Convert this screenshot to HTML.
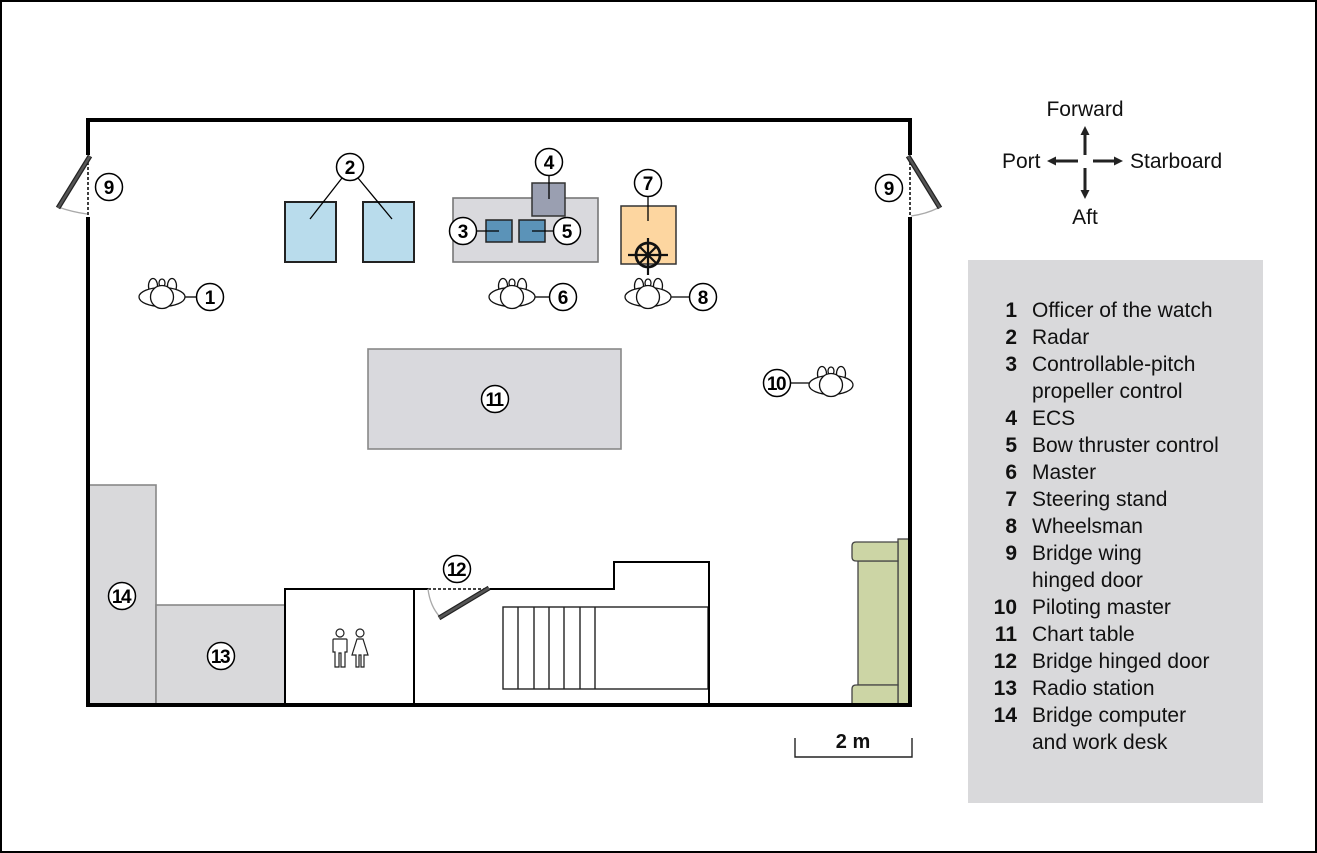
<!DOCTYPE html>
<html><head><meta charset="utf-8"><style>
html,body{margin:0;padding:0;background:#fff;}
svg{display:block;font-family:"Liberation Sans",sans-serif;}
</style></head><body>
<svg width="1317" height="853" viewBox="0 0 1317 853" xmlns="http://www.w3.org/2000/svg">
<rect x="1" y="1" width="1315" height="851" fill="#fff" stroke="#000" stroke-width="2"/>

<!-- furniture fills -->
<rect x="88" y="485" width="68" height="220" fill="#d9d9db" stroke="#888" stroke-width="1.6"/>
<rect x="156" y="605" width="129" height="100" fill="#d9d9db" stroke="#888" stroke-width="1.6"/>
<rect x="368" y="349" width="253" height="100" fill="#d9d9dd" stroke="#888" stroke-width="1.6"/>
<rect x="453" y="198" width="145" height="64" fill="#d9d9dd" stroke="#777" stroke-width="1.6"/>
<rect x="532" y="183" width="33" height="33" fill="#9a9fb1" stroke="#333" stroke-width="1.5"/>
<rect x="486" y="220" width="26" height="22" fill="#5b93b8" stroke="#222" stroke-width="1.5"/>
<rect x="519" y="220" width="26" height="22" fill="#5b93b8" stroke="#222" stroke-width="1.5"/>
<rect x="285" y="202" width="51" height="60" fill="#b9dcec" stroke="#222" stroke-width="2"/>
<rect x="363" y="202" width="51" height="60" fill="#b9dcec" stroke="#222" stroke-width="2"/>
<rect x="621" y="206" width="55" height="58" fill="#fdd6a0" stroke="#333" stroke-width="1.5"/>

<!-- wheel -->
<g stroke="#111" stroke-width="2.2" fill="none">
<circle cx="648" cy="255" r="12" stroke-width="2.8"/>
<line x1="628" y1="255" x2="668" y2="255"/>
<line x1="648" y1="238" x2="648" y2="275"/>
<line x1="640" y1="247" x2="656" y2="263"/>
<line x1="656" y1="247" x2="640" y2="263"/>
</g>
<circle cx="648" cy="255" r="2.5" fill="#111"/>

<!-- sofa -->
<g fill="#ccd5a5" stroke="#444" stroke-width="1.3">
<rect x="898" y="539" width="12" height="166"/>
<rect x="858" y="561" width="40" height="124"/>
<path d="M898 542 H856 Q852 542 852 546 V557 Q852 561 856 561 H898 Z"/>
<path d="M898 685 H856 Q852 685 852 689 V704 H898 Z"/>
</g>

<!-- stairs -->
<g stroke="#222" stroke-width="1.4" fill="none">
<rect x="503" y="607" width="205" height="82"/>
<line x1="518" y1="607" x2="518" y2="689"/>
<line x1="534" y1="607" x2="534" y2="689"/>
<line x1="549" y1="607" x2="549" y2="689"/>
<line x1="564" y1="607" x2="564" y2="689"/>
<line x1="580" y1="607" x2="580" y2="689"/>
<line x1="595" y1="607" x2="595" y2="689"/>
</g>

<!-- interior walls -->
<g stroke="#000" stroke-width="2" fill="none">
<path d="M285 705 V589 H428"/>
<line x1="414" y1="589" x2="414" y2="705"/>
<path d="M490 589 H614 V562 H709 V705"/>
</g>
<line x1="428" y1="589" x2="490" y2="589" stroke="#000" stroke-width="1.5" stroke-dasharray="3,2"/>
<path d="M428 589 Q430 606 440 617" stroke="#aaa" stroke-width="1.3" fill="none"/>
<line x1="439" y1="618" x2="489" y2="588" stroke="#222" stroke-width="5"/>
<line x1="439" y1="618" x2="489" y2="588" stroke="#555" stroke-width="2.5"/>

<!-- toilet icons -->
<g stroke="#222" stroke-width="1.2" fill="#fff">
<circle cx="340" cy="633" r="4"/>
<path d="M334 639 H346 Q347 639 347 640 V652 H345 V667 H341 V653 H339 V667 H335 V652 H333 V640 Q333 639 334 639 Z"/>
<circle cx="360" cy="633" r="4"/>
<path d="M357 639 H363 L368 655 H364 V667 H361 V655 H359 V667 H356 V655 H352 Z"/>
</g>

<!-- outer walls -->
<g stroke="#000" stroke-width="4" fill="none">
<path d="M88 155 V120 H910 V155"/>
<path d="M88 217 V705 H910 V217"/>
</g>
<!-- left door 9 -->
<line x1="88" y1="157" x2="88" y2="216" stroke="#000" stroke-width="1.5" stroke-dasharray="3,2"/>
<path d="M58 207 Q72 212 87 214" stroke="#aaa" stroke-width="1.3" fill="none"/>
<line x1="90" y1="156" x2="58" y2="208" stroke="#222" stroke-width="5"/>
<line x1="90" y1="156" x2="58" y2="208" stroke="#555" stroke-width="2.5"/>
<!-- right door 9 -->
<line x1="910" y1="157" x2="910" y2="216" stroke="#000" stroke-width="1.5" stroke-dasharray="3,2"/>
<path d="M911 216 Q926 214 938 208" stroke="#aaa" stroke-width="1.3" fill="none"/>
<line x1="908" y1="156" x2="940" y2="208" stroke="#222" stroke-width="5"/>
<line x1="908" y1="156" x2="940" y2="208" stroke="#555" stroke-width="2.5"/>

<!-- connectors -->
<g stroke="#000" stroke-width="1.3">
<line x1="185" y1="297" x2="197" y2="297"/>
<line x1="535" y1="297" x2="550" y2="297"/>
<line x1="671" y1="297" x2="690" y2="297"/>
<line x1="790" y1="383" x2="810" y2="383"/>
<line x1="476" y1="231" x2="499" y2="231"/>
<line x1="532" y1="231" x2="554" y2="231"/>
<line x1="342" y1="178" x2="310" y2="219"/>
<line x1="358" y1="178" x2="392" y2="219"/>
<line x1="549" y1="175" x2="549" y2="199"/>
<line x1="648" y1="196" x2="648" y2="221"/>
</g>

<!-- persons -->
<g fill="#fff" stroke="#111" stroke-width="1.3">
<g transform="translate(162,297)">
<ellipse cx="-9" cy="-11" rx="4.5" ry="7.5"/><ellipse cx="10" cy="-11" rx="4.5" ry="7.5"/><ellipse cx="0" cy="-14" rx="3" ry="4"/>
<ellipse cx="0" cy="0" rx="23" ry="9.5"/><circle cx="0" cy="0" r="11.5"/></g>
<g transform="translate(512,297)">
<ellipse cx="-9" cy="-11" rx="4.5" ry="7.5"/><ellipse cx="10" cy="-11" rx="4.5" ry="7.5"/><ellipse cx="0" cy="-14" rx="3" ry="4"/>
<ellipse cx="0" cy="0" rx="23" ry="9.5"/><circle cx="0" cy="0" r="11.5"/></g>
<g transform="translate(648,297)">
<ellipse cx="-9" cy="-11" rx="4.5" ry="7.5"/><ellipse cx="10" cy="-11" rx="4.5" ry="7.5"/><ellipse cx="0" cy="-14" rx="3" ry="4"/>
<ellipse cx="0" cy="0" rx="23" ry="9.5"/><circle cx="0" cy="0" r="11.5"/></g>
<g transform="translate(831,385)">
<ellipse cx="-9" cy="-11" rx="4.5" ry="7.5"/><ellipse cx="10" cy="-11" rx="4.5" ry="7.5"/><ellipse cx="0" cy="-14" rx="3" ry="4"/>
<ellipse cx="0" cy="0" rx="22" ry="9.5"/><circle cx="0" cy="0" r="11.5"/></g>
</g>

<!-- label circles -->
<g fill="#fff" stroke="#000" stroke-width="1.5">
<circle cx="210" cy="297" r="13.5"/>
<circle cx="350" cy="167" r="13.5"/>
<circle cx="463" cy="231" r="13.5"/>
<circle cx="549" cy="162" r="13.5"/>
<circle cx="567" cy="231" r="13.5"/>
<circle cx="563" cy="297" r="13.5"/>
<circle cx="648" cy="183" r="13.5"/>
<circle cx="703" cy="297" r="13.5"/>
<circle cx="109" cy="187" r="13.5"/>
<circle cx="889" cy="188" r="13.5"/>
<circle cx="777" cy="383" r="13.5"/>
<circle cx="495" cy="399" r="13.5"/>
<circle cx="457" cy="569" r="13.5"/>
<circle cx="221" cy="656" r="13.5"/>
<circle cx="122" cy="596" r="13.5"/>
</g>
<g font-size="19" font-weight="bold" text-anchor="middle" fill="#000">
<text x="210" y="304">1</text>
<text x="350" y="174">2</text>
<text x="463" y="238">3</text>
<text x="549" y="169">4</text>
<text x="567" y="238">5</text>
<text x="563" y="304">6</text>
<text x="648" y="190">7</text>
<text x="703" y="304">8</text>
<text x="109" y="194">9</text>
<text x="889" y="195">9</text>
</g>
<g font-size="19" font-weight="bold" text-anchor="middle" fill="#000" letter-spacing="-1.5">
<text x="776" y="390">10</text>
<text x="494" y="406">11</text>
<text x="456" y="576">12</text>
<text x="220" y="663">13</text>
<text x="121" y="603">14</text>
</g>

<!-- compass -->
<g stroke="#222" stroke-width="3">
<line x1="1085" y1="155" x2="1085" y2="133"/>
<line x1="1085" y1="168" x2="1085" y2="191"/>
<line x1="1078" y1="161" x2="1055" y2="161"/>
<line x1="1093" y1="161" x2="1115" y2="161"/>
</g>
<g fill="#222">
<polygon points="1085,126 1080.5,135 1089.5,135"/>
<polygon points="1085,199 1080.5,190 1089.5,190"/>
<polygon points="1047,161 1056,156.5 1056,165.5"/>
<polygon points="1123,161 1114,156.5 1114,165.5"/>
</g>
<g font-size="21" fill="#111">
<text x="1085" y="116" text-anchor="middle">Forward</text>
<text x="1002" y="168">Port</text>
<text x="1130" y="168">Starboard</text>
<text x="1085" y="224" text-anchor="middle">Aft</text>
</g>

<!-- scale -->
<g stroke="#222" stroke-width="1.4" fill="none">
<path d="M795 738 V757 H912 V738"/>
</g>
<text x="853" y="748" font-size="20" font-weight="bold" text-anchor="middle" fill="#111">2 m</text>

<!-- legend -->
<rect x="968" y="260" width="295" height="543" fill="#d9d9db"/>
<g font-size="21" font-weight="bold" text-anchor="end" fill="#111">
<text x="1017" y="317">1</text>
<text x="1017" y="344">2</text>
<text x="1017" y="371">3</text>
<text x="1017" y="425">4</text>
<text x="1017" y="452">5</text>
<text x="1017" y="479">6</text>
<text x="1017" y="506">7</text>
<text x="1017" y="533">8</text>
<text x="1017" y="560">9</text>
<text x="1017" y="614">10</text>
<text x="1017" y="641">11</text>
<text x="1017" y="668">12</text>
<text x="1017" y="695">13</text>
<text x="1017" y="722">14</text>
</g>
<g font-size="21" fill="#111">
<text x="1032" y="317">Officer of the watch</text>
<text x="1032" y="344">Radar</text>
<text x="1032" y="371">Controllable-pitch</text>
<text x="1032" y="398">propeller control</text>
<text x="1032" y="425">ECS</text>
<text x="1032" y="452">Bow thruster control</text>
<text x="1032" y="479">Master</text>
<text x="1032" y="506">Steering stand</text>
<text x="1032" y="533">Wheelsman</text>
<text x="1032" y="560">Bridge wing</text>
<text x="1032" y="587">hinged door</text>
<text x="1032" y="614">Piloting master</text>
<text x="1032" y="641">Chart table</text>
<text x="1032" y="668">Bridge hinged door</text>
<text x="1032" y="695">Radio station</text>
<text x="1032" y="722">Bridge computer</text>
<text x="1032" y="749">and work desk</text>
</g>
</svg>
</body></html>
